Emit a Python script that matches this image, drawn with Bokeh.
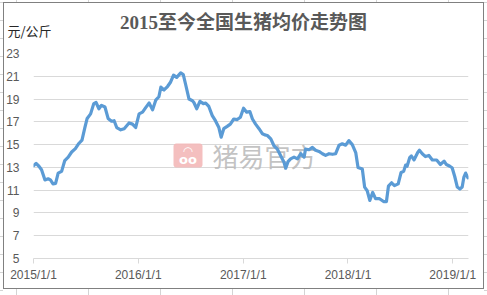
import pandas as pd
from bokeh.plotting import figure
from bokeh.models import ColumnDataSource, FixedTicker, Label, BoxAnnotation, Range1d
from bokeh.embed import file_html
from bokeh.resources import INLINE

# ---------------- data ----------------
dates = [
    "2015-01-01", "2015-01-10", "2015-01-20", "2015-01-29", "2015-02-10", "2015-02-21",
    "2015-03-01", "2015-03-10", "2015-03-19", "2015-03-28", "2015-04-09", "2015-04-20",
    "2015-05-02", "2015-05-14", "2015-05-27", "2015-06-08", "2015-06-19", "2015-06-29",
    "2015-07-07", "2015-07-19", "2015-07-30", "2015-08-07", "2015-08-17", "2015-08-26",
    "2015-09-07", "2015-09-18", "2015-09-30", "2015-10-09", "2015-10-18", "2015-11-01",
    "2015-11-13", "2015-11-30", "2015-12-12", "2015-12-23",
    "2016-01-04", "2016-01-16", "2016-01-27", "2016-02-08", "2016-02-20", "2016-03-02",
    "2016-03-13", "2016-03-20", "2016-03-31", "2016-04-12", "2016-04-23", "2016-05-03",
    "2016-05-14", "2016-05-28", "2016-06-06", "2016-06-14", "2016-06-26", "2016-07-08",
    "2016-07-13", "2016-07-23", "2016-08-03", "2016-08-15", "2016-08-23", "2016-09-03",
    "2016-09-15", "2016-09-26", "2016-10-08", "2016-10-16", "2016-10-25", "2016-11-06",
    "2016-11-17", "2016-11-29", "2016-12-11", "2016-12-22",
    "2017-01-02", "2017-01-13", "2017-01-24", "2017-02-02", "2017-02-13", "2017-02-25",
    "2017-03-09", "2017-03-17", "2017-03-26", "2017-04-07", "2017-04-18", "2017-04-30",
    "2017-05-11", "2017-05-23", "2017-05-29", "2017-06-06", "2017-06-15", "2017-06-27",
    "2017-07-09", "2017-07-20", "2017-08-01", "2017-08-06", "2017-08-18", "2017-08-30",
    "2017-09-10", "2017-09-22", "2017-10-04", "2017-10-15", "2017-10-27", "2017-11-08",
    "2017-11-19", "2017-12-01", "2017-12-12", "2017-12-24",
    "2018-01-04", "2018-01-16", "2018-01-28", "2018-02-05", "2018-02-20", "2018-02-28",
    "2018-03-09", "2018-03-18", "2018-03-28", "2018-04-07", "2018-04-21", "2018-05-05",
    "2018-05-15", "2018-05-22", "2018-06-02", "2018-06-12", "2018-06-25", "2018-07-05",
    "2018-07-14", "2018-07-21", "2018-07-26", "2018-08-04", "2018-08-10", "2018-08-19",
    "2018-09-01", "2018-09-07", "2018-09-17", "2018-09-28", "2018-10-10", "2018-10-22",
    "2018-11-06", "2018-11-19", "2018-12-02", "2018-12-10", "2018-12-22", "2018-12-30",
    "2019-01-08", "2019-01-17", "2019-01-26", "2019-02-03", "2019-02-09", "2019-02-15",
    "2019-02-23",
]
prices = [
    13.15, 13.35, 13.1, 12.8, 11.9, 12.0,
    11.9, 11.55, 11.6, 12.5, 12.65, 13.6,
    13.9, 14.35, 14.65, 15.1, 15.4, 16.5,
    17.3, 17.7, 18.6, 18.7, 18.15, 18.45,
    18.3, 17.3, 17.05, 17.1, 16.5, 16.3,
    16.4, 16.9, 16.8, 16.5,
    17.7, 17.85, 18.25, 18.65, 18.05, 18.9,
    19.2, 20.05, 19.8, 20.1, 20.5, 21.1,
    20.9, 21.3, 21.15, 20.3, 19.0, 18.85,
    18.7, 18.15, 18.8, 18.6, 18.65, 18.35,
    17.55, 17.1, 16.5, 15.65, 16.4, 16.6,
    16.8, 17.25, 17.2, 17.4,
    18.2, 17.85, 17.9, 17.25, 16.8, 16.4,
    15.95, 15.85, 15.8, 15.5, 14.9, 14.6,
    14.05, 13.45, 12.93, 13.5, 13.75, 13.9,
    13.75, 14.2, 13.9, 14.6, 14.55, 14.75,
    14.5, 14.4, 14.2, 14.05, 14.2, 14.15,
    14.2, 14.95, 15.07, 14.95,
    15.35, 15.0, 14.3, 13.0, 12.85, 11.27,
    10.95, 10.1, 10.8, 10.25, 10.25, 10.0,
    10.0, 11.35, 11.65, 11.4, 11.55, 12.55,
    12.65, 13.2, 13.1, 13.85, 14.0, 13.65,
    14.3, 14.5, 14.2, 13.95, 14.05, 13.65,
    13.65, 13.25, 13.55, 13.25, 13.1, 12.97,
    12.2, 11.27, 11.1, 11.27, 12.15, 12.5,
    12.08,
]
y_ticks = [5, 7, 9, 11, 13, 15, 17, 19, 21, 23]
x_tick_dates = ["2015-01-01", "2016-01-01", "2017-01-01", "2018-01-01", "2019-01-01"]
x_tick_labels = ["2015/1/1", "2016/1/1", "2017/1/1", "2018/1/1", "2019/1/1"]
title_text = "2015至今全国生猪均价走势图"
unit_text = "元/公斤"
watermark_text = "猪易官方"

# ---------------- page background: chart border + sheet cell lines (CSS) ----------------
border_c = "#808080"
cell_c = "#d4d4d4"
bg_images = [
    f"linear-gradient({border_c},{border_c})",
    f"linear-gradient({border_c},{border_c})",
    f"linear-gradient({border_c},{border_c})",
    f"linear-gradient({border_c},{border_c})",
    f"repeating-linear-gradient(90deg,{cell_c} 0px 1px,transparent 1px 72px)",
    f"repeating-linear-gradient(90deg,{cell_c} 0px 1px,transparent 1px 72px)",
    f"repeating-linear-gradient(180deg,{cell_c} 0px 1px,transparent 1px 18px)",
    f"repeating-linear-gradient(180deg,{cell_c} 0px 1px,transparent 1px 18px)",
]
bg_sizes = ["481px 1px", "481px 1px", "1px 287px", "1px 287px",
            "487px 2px", "487px 6px", "3px 295px", "3px 295px"]
bg_pos = ["3px 2px", "3px 288px", "3px 2px", "483px 2px",
          "16px 0px", "16px 289px", "0px 2px", "484px 2px"]

# ---------------- figure ----------------
source = ColumnDataSource(data=dict(date=pd.to_datetime(dates), price=prices))


def to_ms(s):
    return int((pd.Timestamp(s) - pd.Timestamp("1970-01-01")).total_seconds() * 1000)


x_ticks = [to_ms(d) for d in x_tick_dates]

p = figure(
    width=487, height=295, x_axis_type="datetime",
    output_backend="svg", toolbar_location=None,
    x_range=Range1d(pd.Timestamp("2015-01-01"), pd.Timestamp("2019-02-25")),
    y_range=Range1d(5, 23),
    min_border_left=33, min_border_right=19, min_border_top=53, min_border_bottom=37,
    background_fill_color=None, border_fill_color=None,
    styles={
        "background-color": "white",
        "background-image": ", ".join(bg_images),
        "background-size": ", ".join(bg_sizes),
        "background-position": ", ".join(bg_pos),
        "background-repeat": "no-repeat",
    },
)
p.outline_line_color = None
p.title.text = ""

# y axis
p.yaxis.ticker = FixedTicker(ticks=y_ticks)
p.yaxis.axis_line_color = None
p.yaxis.major_tick_line_color = None
p.yaxis.minor_tick_line_color = None
p.yaxis.major_label_standoff = 8
p.yaxis.major_label_text_color = "#595959"
p.yaxis.major_label_text_font_size = "12px"
p.yaxis.major_label_text_font = "Liberation Sans"

# x axis
p.xaxis.ticker = FixedTicker(ticks=x_ticks)
p.xaxis.major_label_overrides = {t: l for t, l in zip(x_ticks, x_tick_labels)}
p.xaxis.axis_line_color = "#d9d9d9"
p.xaxis.major_tick_line_color = "#d9d9d9"
p.xaxis.major_tick_in = 0
p.xaxis.major_tick_out = 5
p.xaxis.minor_tick_line_color = None
p.xaxis.major_label_standoff = 4
p.xaxis.major_label_text_color = "#595959"
p.xaxis.major_label_text_font_size = "12px"
p.xaxis.major_label_text_font = "Liberation Sans"

# grid
p.xgrid.visible = False
p.ygrid.ticker = FixedTicker(ticks=y_ticks)
p.ygrid.grid_line_color = "#d9d9d9"
p.ygrid.grid_line_width = 1

# watermark (under the line)
p.add_layout(BoxAnnotation(left=173, right=202, top=143, bottom=167,
                           left_units="canvas", right_units="canvas",
                           top_units="canvas", bottom_units="canvas",
                           fill_color="#f3b8b8", fill_alpha=0.9, line_color=None,
                           border_radius=3, level="underlay"))
p.add_layout(Label(x=187.5, y=150, x_units="canvas", y_units="canvas", text="◠",
                   text_align="center", text_baseline="middle", text_color="white",
                   text_font="DejaVu Sans", text_font_size="12px",
                   text_font_style="bold", level="underlay"))
p.add_layout(Label(x=187.5, y=159, x_units="canvas", y_units="canvas", text="oo",
                   text_align="center", text_baseline="middle", text_color="white",
                   text_font="DejaVu Sans", text_font_size="13px",
                   text_font_style="bold", level="underlay"))
p.add_layout(Label(x=212, y=155, x_units="canvas", y_units="canvas", text=watermark_text,
                   text_align="left", text_baseline="middle", text_color="#b8b8b8",
                   text_alpha=0.85, text_font="Noto Sans CJK SC",
                   text_font_size="26px", level="underlay"))

# line
p.line("date", "price", source=source, line_color="#5b9bd5", line_width=3.2,
       line_join="round", line_cap="round")

# title & unit label (in the top side panel so they are not clipped to the frame)
p.add_layout(Label(x=243, y=22, x_units="canvas", y_units="canvas", text=title_text,
                   text_align="center", text_baseline="middle", text_color="#595959",
                   text_font="Liberation Serif, Noto Sans CJK SC",
                   text_font_style="bold", text_font_size="19px"), "above")
p.add_layout(Label(x=7, y=30, x_units="canvas", y_units="canvas", text=unit_text,
                   text_align="left", text_baseline="middle", text_color="#262626",
                   text_font="Noto Sans CJK SC", text_font_size="13px"), "above")

open("out.html", "w").write(file_html(p, INLINE))
